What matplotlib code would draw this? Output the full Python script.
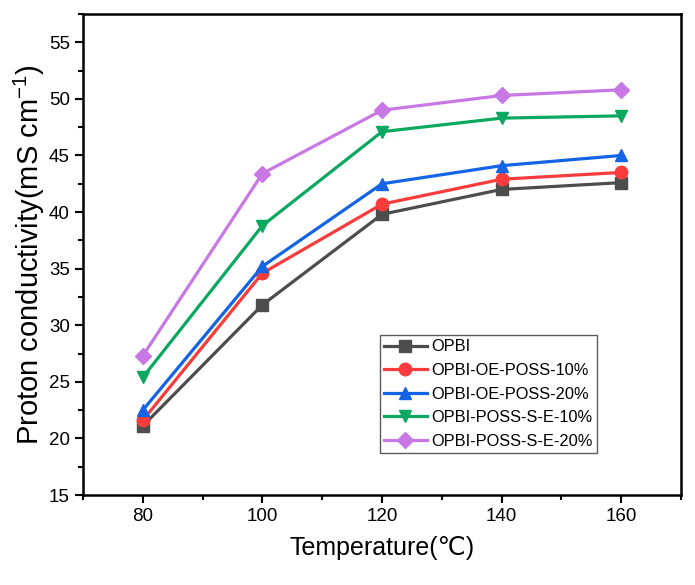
import numpy as np
import matplotlib
matplotlib.use('Agg')
import matplotlib.pyplot as plt
from matplotlib.ticker import MultipleLocator

plt.rcParams['font.family'] = ['Liberation Sans', 'DejaVu Sans']
plt.rcParams['mathtext.fontset'] = 'custom'
plt.rcParams['mathtext.rm'] = 'Liberation Sans'
plt.rcParams['mathtext.default'] = 'regular'

# data
temperature = [80, 100, 120, 140, 160]
opbi = [21.1, 31.8, 39.8, 42.0, 42.6]
oe_poss_10 = [21.6, 34.6, 40.7, 42.9, 43.5]
oe_poss_20 = [22.5, 35.2, 42.5, 44.1, 45.0]
poss_se_10 = [25.4, 38.8, 47.1, 48.3, 48.5]
poss_se_20 = [27.3, 43.4, 49.0, 50.3, 50.8]

labels = ['OPBI', 'OPBI-OE-POSS-10%', 'OPBI-OE-POSS-20%',
          'OPBI-POSS-S-E-10%', 'OPBI-POSS-S-E-20%']
colors = ['#4d4d4d', '#f83c3c', '#1464e6', '#0aa860', '#c878e4']
markers = ['s', 'o', '^', 'v', 'D']
sizes = [8, 9, 9, 9, 8]
series = [opbi, oe_poss_10, oe_poss_20, poss_se_10, poss_se_20]

fig = plt.figure(figsize=(6.95, 5.85), dpi=100)
ax = fig.add_axes([83 / 695, 1 - 495 / 585, 598 / 695, 481 / 585])

for y, lab, c, m, s in zip(series, labels, colors, markers, sizes):
    ax.plot(temperature, y, color=c, marker=m, markersize=s, linewidth=2.3, label=lab)

ax.set_xlim(70, 170)
ax.set_ylim(15, 57.5)
ax.xaxis.set_major_locator(MultipleLocator(20))
ax.xaxis.set_minor_locator(MultipleLocator(10))
ax.yaxis.set_major_locator(MultipleLocator(5))
ax.yaxis.set_minor_locator(MultipleLocator(2.5))
ax.tick_params(which='both', direction='out', labelsize=13.5, width=1.5)
ax.tick_params(which='major', length=6)
ax.tick_params(which='minor', length=3.5)
for sp in ax.spines.values():
    sp.set_linewidth(1.8)

ax.set_xlabel('Temperature(℃)', fontsize=18, labelpad=8)
ax.set_ylabel('Proton conductivity(mS cm$^{-1}$)', fontsize=21, labelpad=1)

leg = ax.legend(loc='lower right', bbox_to_anchor=(0.8595, 0.088), borderaxespad=0,
                fontsize=11.8, frameon=True, fancybox=False, edgecolor='#333333',
                handlelength=2.6, borderpad=0.25, labelspacing=0.52, handletextpad=0.3)
leg.get_frame().set_linewidth(1.0)

fig.savefig('out.png', dpi=100)
